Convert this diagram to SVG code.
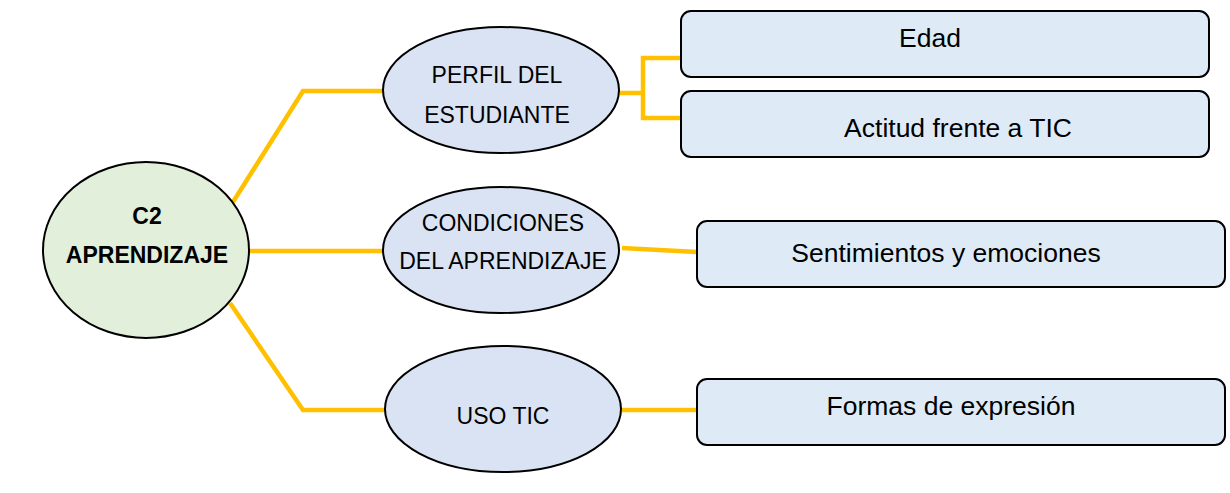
<svg xmlns="http://www.w3.org/2000/svg" width="1230" height="493" viewBox="0 0 1230 493">
<style>
.ell{fill:#dae3f3;stroke:#000;stroke-width:2}
.ctr{fill:#e2efda;stroke:#000;stroke-width:2}
.box{fill:#deebf7;stroke:#000;stroke-width:2}
.con{fill:none;stroke:#ffc000;stroke-width:4.5;stroke-linejoin:miter}
text{font-family:"Liberation Sans",Arial,sans-serif;fill:#000;text-anchor:middle}
.t1{font-size:23px}
.t2{font-size:26.5px}
.tb{font-size:23px;font-weight:bold}
</style>
<rect width="1230" height="493" fill="#fff"/>
<g id="connectors">
<polyline class="con" points="233,202 303,91 383,91"/>
<line class="con" x1="249" y1="251" x2="383" y2="251"/>
<polyline class="con" points="230,303 303,410 385,410"/>
<polyline class="con" points="620,93 643,93"/>
<polyline class="con" points="681,58 643,58 643,118 681,118"/>
<line class="con" x1="622" y1="248" x2="697" y2="252"/>
<line class="con" x1="622" y1="410" x2="697" y2="410"/>
</g>
<g id="c2">
<ellipse class="ctr" cx="146" cy="250" rx="103" ry="88"/>
<text class="tb" x="147" y="224">C2</text>
<text class="tb" x="147" y="263">APRENDIZAJE</text>
</g>
<g id="perfil">
<ellipse class="ell" cx="501" cy="90" rx="118" ry="63"/>
<text class="t1" x="497" y="83">PERFIL DEL</text>
<text class="t1" x="497" y="123">ESTUDIANTE</text>
</g>
<g id="condiciones">
<ellipse class="ell" cx="501" cy="250" rx="118" ry="63"/>
<text class="t1" x="503" y="231">CONDICIONES</text>
<text class="t1" x="503" y="269">DEL APRENDIZAJE</text>
</g>
<g id="uso">
<ellipse class="ell" cx="503" cy="409" rx="118" ry="63"/>
<text class="t1" x="503" y="424">USO TIC</text>
</g>
<g id="edad">
<rect class="box" x="681" y="11" width="528" height="66" rx="10"/>
<text class="t2" x="930" y="47">Edad</text>
</g>
<g id="actitud">
<rect class="box" x="681" y="91" width="528" height="66" rx="10"/>
<text class="t2" x="958" y="137">Actitud frente a TIC</text>
</g>
<g id="sentimientos">
<rect class="box" x="697" y="221" width="528" height="66" rx="10"/>
<text class="t2" x="946" y="262">Sentimientos y emociones</text>
</g>
<g id="formas">
<rect class="box" x="697" y="379" width="528" height="66" rx="10"/>
<text class="t2" x="951" y="415">Formas de expresión</text>
</g>
</svg>
